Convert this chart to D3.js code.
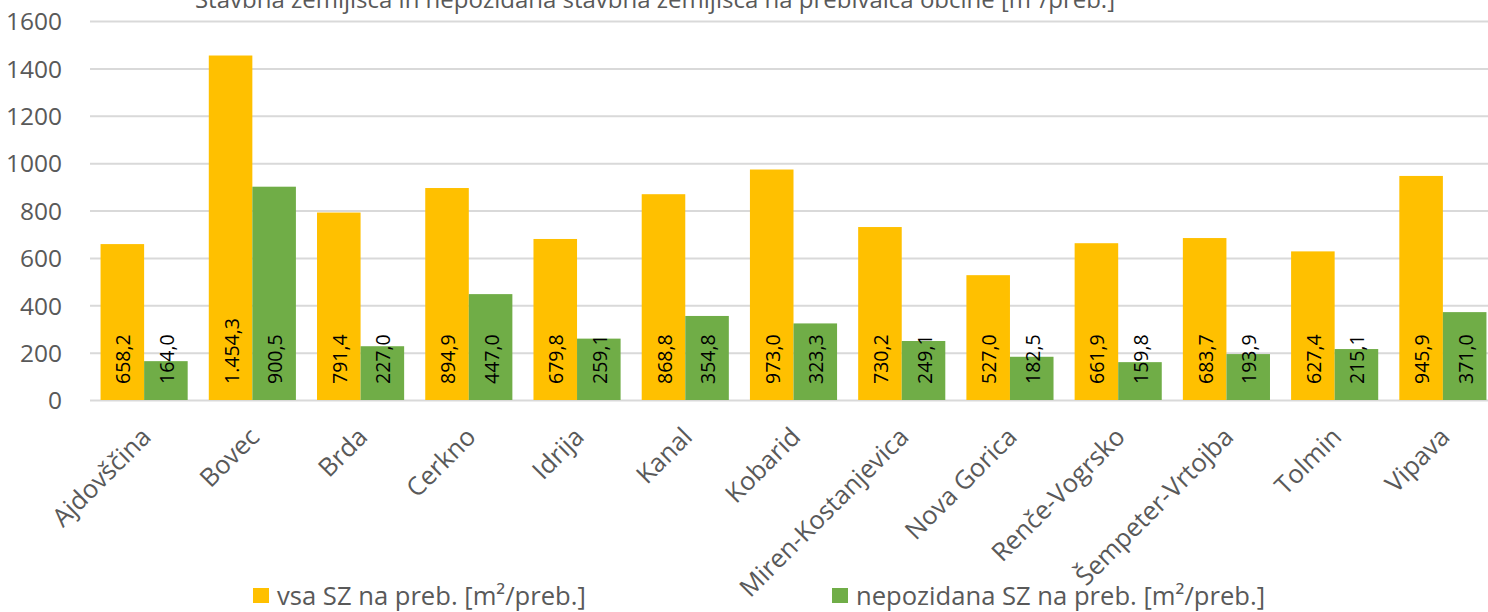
<!DOCTYPE html>
<html>
<head>
<meta charset="utf-8">
<script src="https://cdn.jsdelivr.net/npm/d3@7"></script>
<style>
  html, body { margin: 0; padding: 0; background: #fff; }
  svg { display: block; font-family: "Open Sans", "Noto Sans", sans-serif; }
</style>
</head>
<body>
<svg id="chart" width="1488" height="612"></svg>
<script>
const categories = ["Ajdovščina", "Bovec", "Brda", "Cerkno", "Idrija", "Kanal", "Kobarid",
  "Miren-Kostanjevica", "Nova Gorica", "Renče-Vogrsko", "Šempeter-Vrtojba", "Tolmin", "Vipava"];
const vsaSZ = [658.2, 1454.3, 791.4, 894.9, 679.8, 868.8, 973.0, 730.2, 527.0, 661.9, 683.7, 627.4, 945.9];
const nepozidanaSZ = [164.0, 900.5, 227.0, 447.0, 259.1, 354.8, 323.3, 249.1, 182.5, 159.8, 193.9, 215.1, 371.0];
const yTicks = [0, 200, 400, 600, 800, 1000, 1200, 1400, 1600];
const seriesNames = ["vsa SZ na preb. [m²/preb.]", "nepozidana SZ na preb. [m²/preb.]"];
const seriesColors = ["#FFC000", "#70AD47"];
const title = "Stavbna zemljišča in nepozidana stavbna zemljišča na prebivalca občine [m²/preb.]";

const series = [vsaSZ, nepozidanaSZ];
const svg = d3.select("#chart");
const textColor = "#595959";

const plot = { left: 90, right: 1497, top: 21, bottom: 400 };

const x0 = d3.scaleBand().domain(categories).range([plot.left, plot.right])
  .paddingInner(0.195).paddingOuter(0.0975);
const x1 = d3.scaleBand().domain(d3.range(series.length)).range([0, x0.bandwidth()]);
const y = d3.scaleLinear().domain([0, 1600]).range([plot.bottom, plot.top]);

const sl = d3.formatLocale({ decimal: ",", thousands: ".", grouping: [3], currency: ["", "€"] });
const fmt = sl.format(",.1f");

// Title (runs partly past the top edge)
svg.append("text")
  .attr("x", 655).attr("y", 8)
  .attr("text-anchor", "middle")
  .attr("font-size", 24)
  .attr("fill", textColor)
  .text(title);

// Gridlines
svg.append("g").selectAll("line").data(yTicks).join("line")
  .attr("x1", plot.left).attr("x2", 1488)
  .attr("y1", d => y(d) + 0.5).attr("y2", d => y(d) + 0.5)
  .attr("stroke", "#d9d9d9").attr("stroke-width", 2);

// Y axis labels
const yAxis = d3.axisLeft(y).tickValues(yTicks).tickFormat(d3.format("d")).tickSize(0).tickPadding(0);
const ya = svg.append("g").attr("transform", `translate(62,0)`).call(yAxis);
ya.select(".domain").remove();
ya.selectAll("text").attr("font-size", 24.5).attr("fill", textColor)
  .attr("font-family", "\"Open Sans\", sans-serif").attr("dy", "0.36em");

// Bars with value labels
const groups = svg.append("g").selectAll("g").data(categories).join("g")
  .attr("transform", d => `translate(${x0(d)},0)`);

groups.each(function (cat, ci) {
  const g = d3.select(this);
  series.forEach((s, si) => {
    const v = s[ci];
    g.append("rect")
      .attr("x", x1(si)).attr("width", x1.bandwidth())
      .attr("y", y(v)).attr("height", y(0) - y(v))
      .attr("fill", seriesColors[si]);
    const cx = x1(si) + x1.bandwidth() / 2 + 1;
    g.append("text")
      .attr("transform", `translate(${cx},${y(0) - 16}) rotate(-90)`)
      .attr("text-anchor", "start")
      .attr("dy", "0.36em")
      .attr("font-size", 19.5)
      .attr("fill", "#000")
      .text(fmt(v));
  });
});

// Category labels
svg.append("g").selectAll("text").data(categories).join("text")
  .attr("transform", d => `translate(${x0(d) + x0.bandwidth() / 2 + 2},${plot.bottom + 32}) rotate(-45)`)
  .attr("text-anchor", "end")
  .attr("dy", "0.36em")
  .attr("font-size", 25.5)
  .attr("fill", textColor)
  .text(d => d);

// Legend
const legendX = [253, 832];
const lg = svg.append("g").selectAll("g").data(seriesNames).join("g")
  .attr("transform", (d, i) => `translate(${legendX[i]},588)`);
lg.append("rect").attr("width", 16).attr("height", 15).attr("fill", (d, i) => seriesColors[i]);
lg.append("text").attr("x", 24).attr("y", 8).attr("dy", "0.36em")
  .attr("font-size", 25.6).attr("fill", textColor).text(d => d);
</script>
</body>
</html>
